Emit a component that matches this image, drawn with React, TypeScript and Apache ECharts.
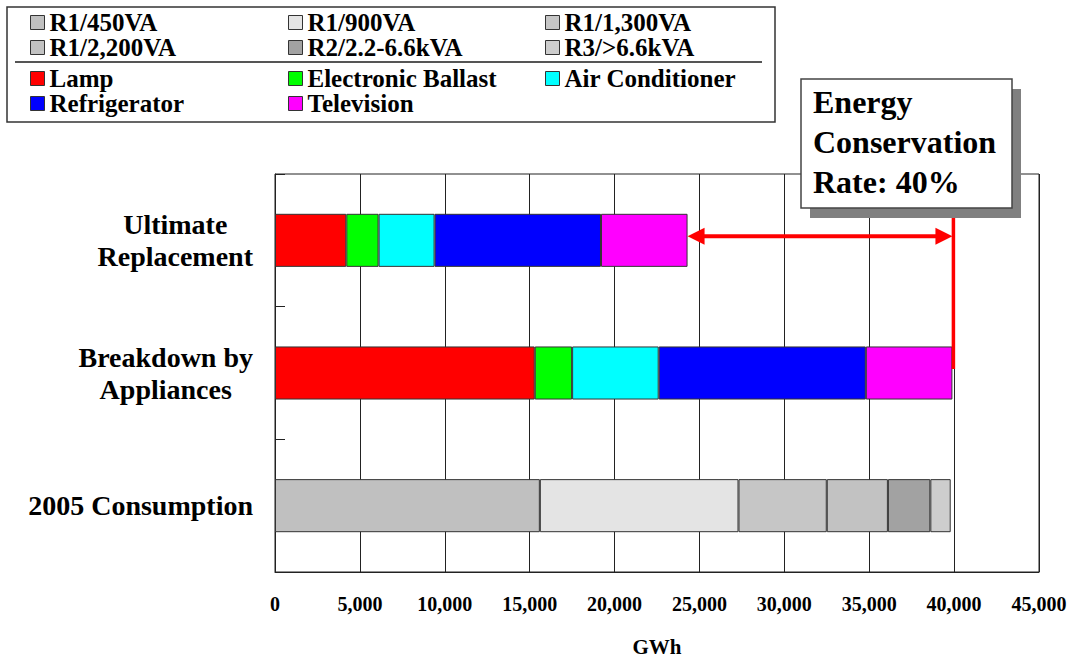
import React, { useEffect, useRef } from 'react';
import * as echarts from 'echarts';

// Categories on the y axis, bottom to top
const categories = ['2005 Consumption', 'Breakdown by\nAppliances', 'Ultimate\nReplacement'];

// 2005 consumption by tariff class (GWh)
const tariffNames = ['R1/450VA', 'R1/900VA', 'R1/1,300VA', 'R1/2,200VA', 'R2/2.2-6.6kVA', 'R3/>6.6kVA'];
const consumption2005 = [15600, 11700, 5200, 3600, 2500, 1200];

// Consumption by appliance (GWh)
const applianceNames = ['Lamp', 'Electronic Ballast', 'Air Conditioner', 'Refrigerator', 'Television'];
const breakdownByAppliances = [15300, 2200, 5100, 12200, 5100];
const ultimateReplacement = [4200, 1900, 3300, 9800, 5100];

const xTicks = { min: 0, max: 45000, interval: 5000 };
const calloutLines = ['Energy', 'Conservation', 'Rate: 40%'];

const tariffColors = ['#c0c0c0', '#e4e4e4', '#c6c6c6', '#c2c2c2', '#a2a2a2', '#cdcdcd'];
const applianceColors = ['#ff0000', '#00ff00', '#00ffff', '#0000ff', '#ff00ff'];

const FONT = '"Liberation Serif", "Times New Roman", serif';

const legendCols = [30, 288, 545];
const legendRows = [22, 47, 78, 103];

export default function App() {
  const ref = useRef<HTMLDivElement>(null);

  useEffect(() => {
    if (!ref.current) return;
    const chart = echarts.init(ref.current, undefined, { renderer: 'svg' });

    const barBorder = { borderColor: '#333', borderWidth: 1 };

    const tariffSeries = tariffNames.map((name, i) => ({
      type: 'bar',
      name,
      stack: 'total',
      barCategoryGap: '60%',
      data: [consumption2005[i], null, null],
      itemStyle: { color: tariffColors[i], ...barBorder },
    }));

    const applianceSeries = applianceNames.map((name, i) => ({
      type: 'bar',
      name,
      stack: 'total',
      barCategoryGap: '60%',
      data: [null, breakdownByAppliances[i], ultimateReplacement[i]],
      itemStyle: { color: applianceColors[i], ...barBorder },
    }));

    const legendText = {
      fontFamily: FONT,
      fontWeight: 'bold',
      fontSize: 25,
      color: '#000',
      lineHeight: 24,
    };

    const makeLegend = (name: string, row: number, col: number) => ({
      data: [name],
      left: legendCols[col],
      top: legendRows[row] - 12,
      padding: 0,
      itemWidth: 14,
      itemHeight: 14,
      itemGap: 0,
      itemTextGap: 6,
      icon: 'rect',
      selectedMode: false,
      itemStyle: { borderColor: '#333', borderWidth: 1 },
      textStyle: legendText,
    });

    const legends = [
      ...tariffNames.map((n, i) => makeLegend(n, Math.floor(i / 3), i % 3)),
      ...applianceNames.map((n, i) => makeLegend(n, 2 + Math.floor(i / 3), i % 3)),
    ];

    chart.setOption({
      animation: false,
      backgroundColor: '#fff',
      legend: legends,
      grid: {
        left: 275,
        top: 174,
        right: 36,
        bottom: 86,
        show: true,
        borderColor: '#222',
        borderWidth: 1,
      },
      xAxis: {
        type: 'value',
        min: xTicks.min,
        max: xTicks.max,
        interval: xTicks.interval,
        name: 'GWh',
        nameLocation: 'middle',
        nameGap: 64,
        nameTextStyle: { fontFamily: FONT, fontWeight: 'bold', fontSize: 21, color: '#000' },
        axisLine: { show: true, lineStyle: { color: '#222', width: 1 } },
        axisTick: { show: false },
        axisLabel: {
          margin: 22,
          fontFamily: FONT,
          fontWeight: 'bold',
          fontSize: 20,
          color: '#000',
          formatter: (v: number) => v.toLocaleString('en-US'),
        },
        splitLine: { show: true, lineStyle: { color: '#222', width: 1 } },
      },
      yAxis: {
        type: 'category',
        data: categories,
        axisLine: { show: true, lineStyle: { color: '#222', width: 1 } },
        axisTick: { show: true, inside: true, length: 10, lineStyle: { color: '#222' } },
        axisLabel: {
          margin: 22,
          align: 'right',
          formatter: (v: string) => v.split('\n').map((l) => `{c|${l}}`).join('\n'),
          rich: {
            c: {
              fontFamily: FONT,
              fontWeight: 'bold',
              fontSize: 28,
              lineHeight: 32,
              align: 'center',
              color: '#000',
            },
          },
        },
        splitLine: { show: false },
      },
      series: [...tariffSeries, ...applianceSeries],
    });

    // Annotation: saving between the appliance total and the ultimate replacement total
    const breakdownTotal = breakdownByAppliances.reduce((a, b) => a + b, 0);
    const ultimateTotal = ultimateReplacement.reduce((a, b) => a + b, 0);
    const pStart = chart.convertToPixel({ gridIndex: 0 }, [ultimateTotal, 2]) as number[];
    const pEnd = chart.convertToPixel({ gridIndex: 0 }, [breakdownTotal, 2]) as number[];
    const pBreak = chart.convertToPixel({ gridIndex: 0 }, [breakdownTotal, 1]) as number[];

    const arrowY = pStart[1] - 4;
    const head = 17;
    const halfH = 8.5;
    const red = '#ff0000';

    const box = { x: 801, y: 79, w: 211, h: 129 };

    chart.setOption({
      graphic: [
        // legend frame and separator
        {
          type: 'rect',
          z: 50,
          shape: { x: 7, y: 7, width: 768, height: 115 },
          style: { fill: 'transparent', stroke: '#333', lineWidth: 1.5 },
        },
        {
          type: 'line',
          z: 50,
          shape: { x1: 15, y1: 62, x2: 762, y2: 62 },
          style: { stroke: '#555', lineWidth: 2 },
        },
        // double-headed arrow
        {
          type: 'line',
          z: 60,
          shape: { x1: pStart[0] + head - 2, y1: arrowY, x2: pEnd[0] - head + 2, y2: arrowY },
          style: { stroke: red, lineWidth: 4 },
        },
        {
          type: 'polygon',
          z: 60,
          shape: { points: [[pStart[0], arrowY], [pStart[0] + head, arrowY - halfH], [pStart[0] + head, arrowY + halfH]] },
          style: { fill: red },
        },
        {
          type: 'polygon',
          z: 60,
          shape: { points: [[pEnd[0], arrowY], [pEnd[0] - head, arrowY - halfH], [pEnd[0] - head, arrowY + halfH]] },
          style: { fill: red },
        },
        // vertical marker at the appliance total
        {
          type: 'line',
          z: 60,
          shape: { x1: pEnd[0] + 1, y1: box.y + box.h, x2: pEnd[0] + 1, y2: pBreak[1] - 4 },
          style: { stroke: red, lineWidth: 3.5 },
        },
        // callout with drop shadow
        {
          type: 'rect',
          z: 70,
          shape: { x: box.x + 9, y: box.y + 10, width: box.w, height: box.h },
          style: { fill: '#808080' },
        },
        {
          type: 'rect',
          z: 71,
          shape: { x: box.x, y: box.y, width: box.w, height: box.h },
          style: { fill: '#fff', stroke: '#444', lineWidth: 1.5 },
        },
        {
          type: 'text',
          z: 72,
          x: box.x + 12,
          y: box.y + 3,
          style: {
            text: calloutLines.join('\n'),
            font: `bold 32px ${FONT}`,
            fill: '#000',
            lineHeight: 40,
            verticalAlign: 'top',
            align: 'left',
          },
        },
      ],
    });

    return () => chart.dispose();
  }, []);

  return (
    <div
      ref={ref}
      style={{ position: 'fixed', left: 0, top: 0, width: 1075, height: 662, background: '#fff' }}
    />
  );
}
